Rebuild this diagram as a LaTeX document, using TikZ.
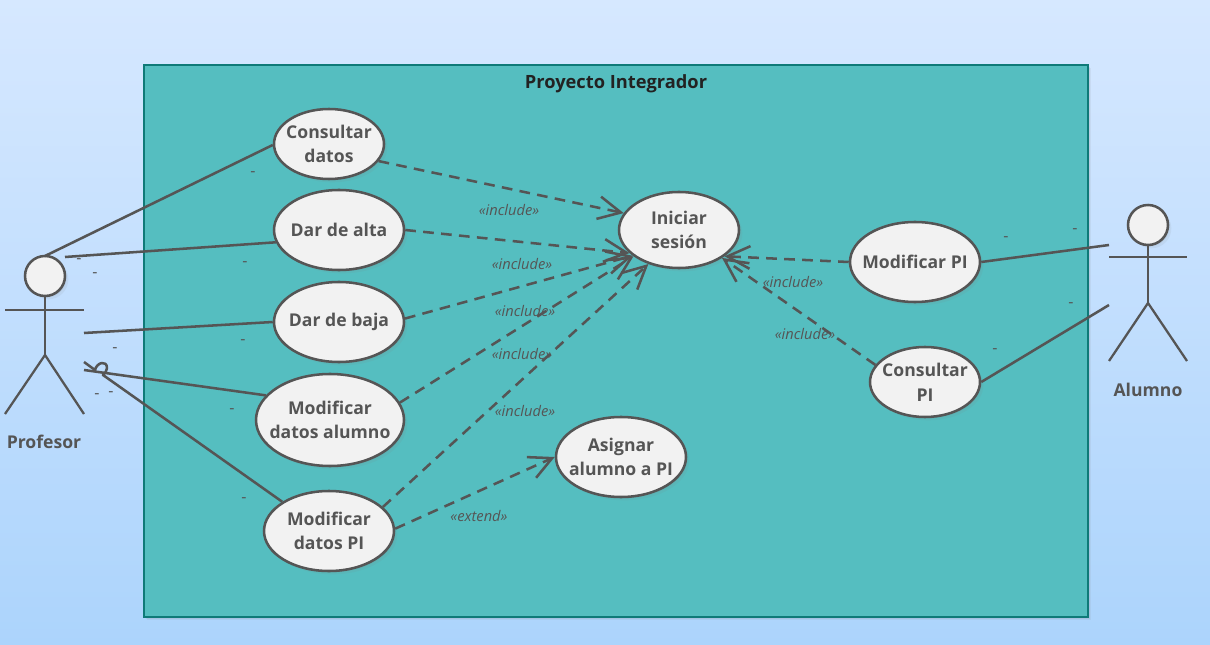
\documentclass[tikz,border=0pt]{standalone}
\usepackage{fontspec}
\setmainfont{Open Sans}
\usetikzlibrary{positioning,arrows.meta,calc,shadows,shapes.geometric}
\definecolor{ucBgTop}{RGB}{214,232,255}
\definecolor{ucBgBottom}{RGB}{172,212,252}
\definecolor{ucFrame}{RGB}{85,190,192}
\definecolor{ucFrameLine}{RGB}{15,122,120}
\definecolor{ucLine}{RGB}{85,85,85}
\definecolor{ucFill}{RGB}{242,242,242}
\definecolor{ucTitle}{RGB}{34,34,34}
\tikzset{
    base/.style={font=\fontsize{13.2}{18.5}\selectfont\bfseries, align=center, text=ucLine},
    softshadow/.style={drop shadow={opacity=0.1, shadow xshift=2.5pt, shadow yshift=-2.5pt},
                    drop shadow={opacity=0.12, shadow xshift=1.2pt, shadow yshift=-1.2pt}},
    ucase/.style 2 args={base, ellipse, draw=ucLine, line width=1.9pt, fill=ucFill, inner sep=-10pt,
                    minimum width=#1*0.75pt, minimum height=#2*0.75pt, softshadow},
    actorhead/.style={circle, draw=ucLine, line width=1.9pt, fill=ucFill, inner sep=0pt, minimum size=30pt, softshadow},
    limb/.style={draw=ucLine, line width=1.7pt},
    assoc/.style={draw=ucLine, line width=1.9pt},
    dep/.style={draw=ucLine, line width=1.9pt, dash pattern=on 8pt off 5.5pt,
                    -{Straight Barb[length=17pt, width=17pt, line width=1.9pt]}},
    stereo/.style={font=\fontsize{11}{13}\selectfont\itshape, text=ucLine, inner sep=0pt},
    mult/.style={font=\fontsize{12}{13}\selectfont, text=ucLine, inner sep=0pt},
    actorname/.style={base}
}
\begin{document}
\begin{tikzpicture}[x=0.75pt, y=-0.75pt]
  \useasboundingbox (0,0) rectangle (1210,645);
  % background and system frame
  \shade[top color=ucBgTop, bottom color=ucBgBottom] (0,0) rectangle (1210,645);
  \node[draw=ucFrameLine, line width=1.6pt, fill=ucFrame, inner sep=0pt, minimum width=944*0.75pt, minimum height=552*0.75pt,
        softshadow] (sistema) at (616,341) {};
  \node[base, text=ucTitle, font=\fontsize{13.7}{18.5}\selectfont\bfseries] (titulo) at (616,84) {Proyecto Integrador};

  % use cases
  \node[ucase={110}{70}] (consultar) at (329,144) {Consultar\\datos};
  \node[ucase={130}{80}] (alta) at (339,230) {Dar de alta};
  \node[ucase={130}{80}] (baja) at (339,322) {Dar de baja};
  \node[ucase={148}{92}] (modalumno) at (330,420) {Modificar\\datos alumno};
  \node[ucase={130}{80}] (modpi) at (329,531) {Modificar\\datos PI};
  \node[ucase={120}{76}] (iniciar) at (679,230) {Iniciar\\sesión};
  \node[ucase={130}{80}] (asignar) at (621,457) {Asignar\\alumno a PI};
  \node[ucase={130}{80}] (modificarpi) at (915,262) {Modificar PI};
  \node[ucase={110}{70}] (consultarpi) at (925,382) {Consultar\\PI};

  % Profesor
  \node[actorhead] (profesor) at (45,276) {};
  \coordinate (pfCadera) at (45,355);
  \coordinate (pfBrazoI) at (5,310);
  \coordinate (pfBrazoD) at (84,310);
  \coordinate (pfPieI) at (5,414);
  \coordinate (pfPieD) at (84,414);
  \draw[limb] (profesor) -- (pfCadera);
  \draw[limb] (pfBrazoI) -- (pfBrazoD);
  \draw[limb] (pfPieI) -- (pfCadera) -- (pfPieD);
  \node[actorname] (profesorname) at (44,442) {Profesor};

  % Alumno
  \node[actorhead] (alumno) at (1148,225) {};
  \coordinate (alCadera) at (1148,303);
  \coordinate (alBrazoI) at (1109,257);
  \coordinate (alBrazoD) at (1187,257);
  \coordinate (alPieI) at (1109,361);
  \coordinate (alPieD) at (1187,361);
  \draw[limb] (alumno) -- (alCadera);
  \draw[limb] (alBrazoI) -- (alBrazoD);
  \draw[limb] (alPieI) -- (alCadera) -- (alPieD);
  \node[actorname] (alumnoname) at (1148,390) {Alumno};

  % associations
  \coordinate (pfA) at (45,256);
  \coordinate (pfB) at (65,257);
  \coordinate (pfC) at (84,333);
  \coordinate (pfD) at (84,370);
  \coordinate (pfE) at (84,362);
  \coordinate (pfF) at (95,370);
  \coordinate (pfG) at (103,375);
  \coordinate (alA) at (1109,245);
  \coordinate (alB) at (1109,305);
  \draw[assoc] (pfA) -- (consultar.181);
  \draw[assoc] (pfB) -- (alta.191);
  \draw[assoc] (pfC) -- (baja.180);
  \draw[assoc] (pfD) -- (modalumno.159);
  \draw[assoc, line join=round] (pfE) -- (pfF) .. controls (97,362) and (107,360) .. (107,368) .. controls (107,371) and (105,373) .. (pfG) -- (modpi.148);
  \draw[assoc] (modificarpi.0) -- (alA);
  \draw[assoc] (consultarpi.0) -- (alB);

  % include and extend
  \draw[dep] (consultar.341) -- (iniciar.163);
  \draw[dep] (alta.0) -- (iniciar.205);
  \draw[dep] (baja.3) -- (iniciar.209);
  \draw[dep] (modalumno.14) -- (iniciar.210);
  \draw[dep] (modpi.24) -- (iniciar.228);
  \draw[dep] (modpi.2) -- (asignar.180);
  \draw[dep] (modificarpi.180) -- (iniciar.330);
  \draw[dep] (consultarpi.161) -- (iniciar.327);

  \node[stereo] (incA) at (509,210) {«include»};
  \node[stereo] (incB) at (522,264) {«include»};
  \node[stereo] (incC) at (525,311) {«include»};
  \node[stereo] (incD) at (522,354) {«include»};
  \node[stereo] (incE) at (525,411) {«include»};
  \node[stereo] (incF) at (793,282) {«include»};
  \node[stereo] (incG) at (805,334) {«include»};
  \node[stereo] (extA) at (479,516) {«extend»};

  % multiplicity marks
  \foreach \px/\py [count=\i] in {253/174, 79/261, 95/275, 245/264, 243/342, 115/350, 97/396, 111/394,
                                  232/411, 244/500, 1006/239, 1075/231, 1071/305, 995/351}
    \node[mult] (mark\i) at (\px,\py) {-};
\end{tikzpicture}
\end{document}
